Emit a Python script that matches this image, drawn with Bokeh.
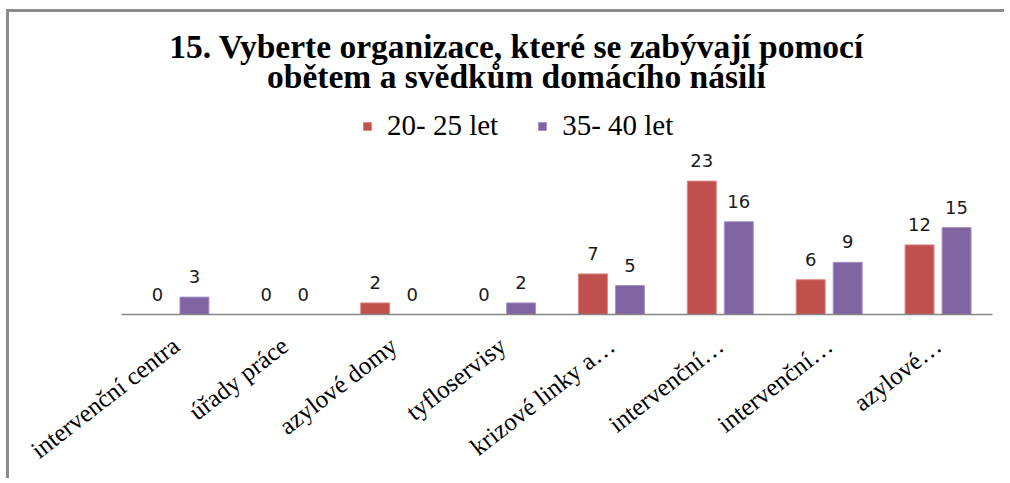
from bokeh.plotting import figure
from bokeh.models import ColumnDataSource, Range1d, FixedTicker, Legend, LegendItem, Label
from bokeh.transform import dodge
from bokeh.core.properties import value
from bokeh.embed import file_html
from bokeh.resources import INLINE

title_lines = ["15. Vyberte organizace, které se zabývají pomocí",
               "obětem a svědkům domácího násilí"]
categories = ["intervenční centra", "úřady práce", "azylové domy", "tyfloservisy",
              "krizové linky a…", "intervenční…", "intervenční…", "azylové…"]
series_names = ["20- 25 let", "35- 40 let"]
values_20_25 = [0, 0, 2, 0, 7, 23, 6, 12]
values_35_40 = [3, 0, 0, 2, 5, 16, 9, 15]
colors = ["#C0504D", "#8064A2"]

idx = list(range(len(categories)))
src = ColumnDataSource(dict(
    x=idx,
    a=values_20_25, b=values_35_40,
    la=[str(v) for v in values_20_25], lb=[str(v) for v in values_35_40],
))

p = figure(width=998, height=469, output_backend="svg", toolbar_location=None,
           title=None,
           x_range=Range1d(-0.5, len(categories) - 0.5), y_range=Range1d(0, 51.9),
           min_border_left=112, min_border_right=15, min_border_top=1,
           min_border_bottom=167)
p.styles = {"border-top": "3px solid #8c8c8c", "border-left": "3px solid #8c8c8c",
            "margin-top": "9px", "margin-left": "6px"}

for txt, yy in zip(title_lines, [268, 238]):
    p.add_layout(Label(x=395, y=yy, x_units="screen", y_units="screen", text=txt,
                       text_align="center", text_baseline="alphabetic",
                       text_font="Liberation Serif", text_font_size="33.5px",
                       text_font_style="bold", text_color="#000000"))

off = 0.17
bw = 0.266
r1 = p.vbar(x=dodge("x", -off, range=p.x_range), top="a", width=bw, source=src,
            fill_color=colors[0], line_color="#d98a87", line_width=1)
r2 = p.vbar(x=dodge("x", off, range=p.x_range), top="b", width=bw, source=src,
            fill_color=colors[1], line_color="#a895c4", line_width=1)

lab_kw = dict(text_font=value("DejaVu Sans"), text_font_size="18px",
              text_align="center", text_baseline="bottom", y_offset=-14,
              text_color="#1a1a1a")
p.text(x=dodge("x", -off, range=p.x_range), y="a", text="la", source=src, **lab_kw)
p.text(x=dodge("x", off, range=p.x_range), y="b", text="lb", source=src, **lab_kw)

legend = Legend(items=[LegendItem(label=series_names[0], renderers=[r1]),
                       LegendItem(label=series_names[1], renderers=[r2])],
                orientation="horizontal", location=(241, 172))
legend.padding = 0
legend.margin = 0
legend.glyph_width = 10
legend.glyph_height = 10
legend.label_standoff = 15
legend.spacing = 39
legend.label_text_font = "Liberation Serif"
legend.label_text_font_size = "29px"
legend.label_text_color = "#000000"
legend.background_fill_alpha = 0
legend.border_line_color = None
p.add_layout(legend, "center")

p.yaxis.visible = False
p.xgrid.visible = False
p.ygrid.visible = False
p.outline_line_color = None

ax = p.xaxis[0]
ax.ticker = FixedTicker(ticks=idx)
ax.major_label_overrides = {i: c for i, c in zip(idx, categories)}
ax.major_label_orientation = 0.66
ax.major_label_text_font = "Liberation Serif"
ax.major_label_text_font_size = "25px"
ax.major_label_text_color = "#000000"
ax.major_label_standoff = 22
ax.major_tick_line_color = None
ax.minor_tick_line_color = None
ax.axis_line_color = "#868686"
ax.axis_line_width = 1.5

open("out.html", "w").write(file_html(p, INLINE))
